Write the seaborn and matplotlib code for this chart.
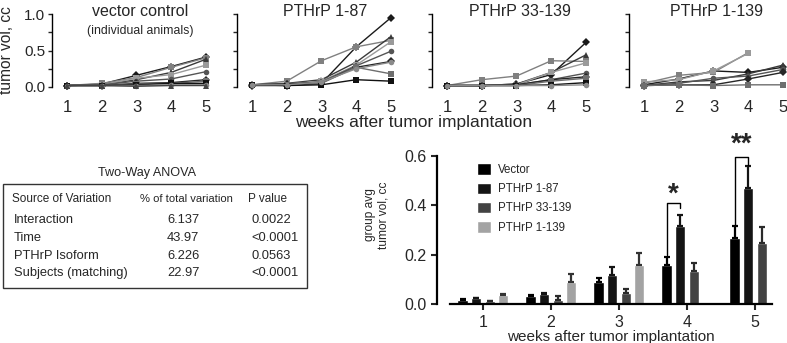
import numpy as np
import pandas as pd
import seaborn as sns
import matplotlib.pyplot as plt
from matplotlib.patches import Rectangle

nan = np.nan
weeks = [1, 2, 3, 4, 5]

# individual animals, tumor volume (cc) per week
vector_animals = [
    [0.02, 0.04, 0.16, 0.28, 0.41],
    [0.02, 0.05, 0.13, 0.27, 0.40],
    [0.02, 0.03, 0.10, 0.20, 0.38],
    [0.02, 0.03, 0.12, 0.17, 0.30],
    [0.02, 0.03, 0.08, 0.11, 0.21],
    [0.02, 0.02, 0.05, 0.06, 0.10],
    [0.02, 0.02, 0.04, 0.05, 0.08],
    [0.02, 0.02, 0.03, 0.05, 0.05],
    [0.02, 0.02, 0.02, 0.03, 0.03],
    [0.02, 0.02, 0.01, 0.02, 0.02],
]
pth187_animals = [
    [0.02, 0.02, 0.05, 0.55, 0.95],
    [0.03, 0.08, 0.36, 0.55, 0.64],
    [0.03, 0.05, 0.10, 0.34, 0.69],
    [0.03, 0.04, 0.08, 0.30, 0.62],
    [0.03, 0.04, 0.07, 0.29, 0.49],
    [0.03, 0.04, 0.06, 0.27, 0.35],
    [0.03, 0.03, 0.05, 0.27, 0.18],
    [0.03, 0.02, 0.03, 0.10, 0.08],
    [0.03, 0.03, 0.07, 0.25, 0.34],
]
pth33_animals = [
    [0.02, 0.02, 0.04, 0.17, 0.61],
    [0.02, 0.10, 0.15, 0.36, 0.35],
    [0.02, 0.02, 0.04, 0.20, 0.44],
    [0.02, 0.02, 0.03, 0.20, 0.33],
    [0.02, 0.02, 0.03, 0.10, 0.19],
    [0.02, 0.02, 0.03, 0.10, 0.14],
    [0.02, 0.02, 0.02, 0.08, 0.12],
    [0.02, 0.02, 0.02, 0.03, 0.06],
    [0.02, 0.02, 0.02, 0.02, 0.03],
]
pth1139_animals = [
    [0.03, 0.11, 0.22, 0.20, 0.27],
    [0.05, 0.16, 0.20, 0.47, nan],
    [0.02, 0.07, 0.09, 0.18, 0.30],
    [0.07, 0.10, 0.22, 0.46, nan],
    [0.02, 0.05, 0.12, 0.15, 0.24],
    [0.02, 0.03, 0.03, 0.11, 0.20],
    [0.02, 0.03, 0.02, 0.03, 0.03],
]
panel_titles = ['vector control', 'PTHrP 1-87', 'PTHrP 33-139', 'PTHrP 1-139']

# group averages +/- SEM
groups = ['Vector', 'PTHrP 1-87', 'PTHrP 33-139', 'PTHrP 1-139']
avg_vector = [0.018, 0.031, 0.088, 0.158, 0.268]
avg_187 = [0.023, 0.039, 0.118, 0.316, 0.469]
avg_33 = [0.012, 0.018, 0.045, 0.132, 0.247]
avg_1139 = [0.035, 0.089, 0.160, nan, nan]
sem_vector = [0.003, 0.005, 0.016, 0.031, 0.049]
sem_187 = [0.003, 0.005, 0.032, 0.046, 0.089]
sem_33 = [0.002, 0.013, 0.016, 0.035, 0.065]
sem_1139 = [0.007, 0.034, 0.048, nan, nan]

# two-way ANOVA table
anova_source = ['Interaction', 'Time', 'PTHrP Isoform', 'Subjects (matching)']
anova_pct = ['6.137', '43.97', '6.226', '22.97']
anova_p = ['0.0022', '<0.0001', '0.0563', '<0.0001']

sns.set_style('white')
plt.rcParams['font.family'] = ['Liberation Sans', 'DejaVu Sans']

W, H = 787, 343
fig = plt.figure(figsize=(W / 100, H / 100), dpi=100)


def px_axes(left, top, width, height):
    return fig.add_axes([left / W, 1 - (top + height) / H, width / W, height / H])


# ---- top row: individual animals
shades = ['#1a1a1a', '#808080', '#3a3a3a', '#9a9a9a', '#555555',
          '#262626', '#6e6e6e', '#111111', '#8a8a8a', '#444444']
marks = ['D', 's', '^', 's', 'o', 'D', 's', 's', 'o', '^']

panel_lefts = [52, 237, 432, 629]
all_animals = [vector_animals, pth187_animals, pth33_animals, pth1139_animals]
for k, (animals, title) in enumerate(zip(all_animals, panel_titles)):
    ax = px_axes(panel_lefts[k], 14, 155, 73)
    rows = []
    for i, vals in enumerate(animals):
        for w, v in zip(weeks, vals):
            rows.append({'week': w, 'vol': v, 'animal': i})
    df = pd.DataFrame(rows).dropna()
    n = len(animals)
    sns.lineplot(data=df, x='week', y='vol', hue='animal', style='animal',
                 palette=shades[:n], markers=marks[:n], dashes=False,
                 markersize=4, linewidth=1.0, markeredgewidth=0,
                 legend=False, ax=ax, clip_on=False)
    ax.set_xlim(0.568, 5.03)
    ax.set_ylim(0, 1)
    ax.set_xlabel('')
    ax.set_ylabel('')
    sns.despine(ax=ax, bottom=True)
    ax.spines['left'].set_linewidth(1.0)
    ax.spines['left'].set_color('black')
    ax.set_xticks(weeks)
    ax.tick_params(axis='x', length=0, pad=9, labelsize=12)
    ax.set_yticks([0, 0.25, 0.5, 0.75, 1.0])
    if k == 0:
        ax.set_yticklabels(['0.0', '', '0.5', '', '1.0'])
    else:
        ax.set_yticklabels([])
    ax.tick_params(axis='y', left=True, length=3, width=1, pad=2, labelsize=11)
    ax.text(3.1, 1.04, title, ha='center', va='center', fontsize=11.5)
    if k == 0:
        ax.text(3.1, 0.77, '(individual animals)', ha='center', va='center', fontsize=8.8)

fig.text(7 / W, 1 - 50 / H, 'tumor vol, cc', rotation=90, ha='center', va='center', fontsize=11.2)
fig.text(414 / W, 1 - 123 / H, 'weeks after tumor implantation', ha='center', va='center', fontsize=12.5)

# ---- ANOVA table
tab = fig.add_axes([0, 0, 1, 1])
tab.set_xlim(0, W)
tab.set_ylim(H, 0)
tab.axis('off')
tab.add_patch(Rectangle((3, 184), 304, 104, fill=False, edgecolor='#333333', lw=1.0))
tab.text(147, 173, 'Two-Way ANOVA', ha='center', va='center', fontsize=9.1)
tab.text(12, 199, 'Source of Variation', va='center', fontsize=8.5)
tab.text(140, 199, '% of total variation', va='center', fontsize=8.1)
tab.text(248, 199, 'P value', va='center', fontsize=8.5)
for i, (s, p, pv) in enumerate(zip(anova_source, anova_pct, anova_p)):
    y = 220 + i * 17.8
    tab.text(14, y, s, va='center', fontsize=9.3)
    tab.text(167, y, p, va='center', fontsize=9.3)
    tab.text(251, y, pv, va='center', fontsize=9.3)

# ---- bottom right: group averages
bar_colors = ['#000000', '#141414', '#424242', '#a3a3a3']
err_colors = ['#000000', '#141414', '#2a2a2a', '#333333']
rows = []
for g, avg in zip(groups, [avg_vector, avg_187, avg_33, avg_1139]):
    for w, v in zip(weeks, avg):
        rows.append({'week': w, 'group': g, 'vol': v})
bar_df = pd.DataFrame(rows)

axb = px_axes(450, 156, 322, 148)
sns.barplot(data=bar_df, x='week', y='vol', hue='group', hue_order=groups,
            palette=bar_colors, errorbar=None, gap=0.25, ax=axb, saturation=1)
handles, labels = axb.get_legend_handles_labels()
axb.legend(handles, labels, loc='upper left', bbox_to_anchor=(0.084, 0.95),
           frameon=False, fontsize=8.3, handlelength=1.2, handleheight=1.2,
           handletextpad=0.6, labelspacing=0.55, borderpad=0, borderaxespad=0)

sems = [sem_vector, sem_187, sem_33, sem_1139]
bar_conts = list(axb.containers)
for i, cont in enumerate(bar_conts):
    for bar in cont:
        h = bar.get_height()
        if np.isnan(h) or h == 0:
            continue
        x = bar.get_x() + bar.get_width() / 2
        wk = int(round(x))
        axb.errorbar(x, h, yerr=[[0], [sems[i][wk]]], color=err_colors[i],
                     capsize=2.5, elinewidth=1.6, capthick=1.6, zorder=1)

axb.set_xlim(-0.485, 4.25)
axb.set_ylim(0, 0.6)
axb.set_yticks([0, 0.2, 0.4, 0.6])
axb.set_yticklabels(['0.0', '0.2', '0.4', '0.6'])
sns.despine(ax=axb)
axb.spines['left'].set_position(('outward', 9.4))
for sp in ['left', 'bottom']:
    axb.spines[sp].set_linewidth(1.6)
    axb.spines[sp].set_color('black')
axb.tick_params(axis='both', bottom=True, left=True, length=4, width=1.5, labelsize=11.5)
axb.tick_params(axis='x', pad=4)
axb.set_xlabel('weeks after tumor implantation', fontsize=11, labelpad=0)
axb.set_ylabel('')
fig.text(377 / W, 1 - 215 / H, 'group avg\ntumor vol, cc', rotation=90,
         ha='center', va='center', fontsize=8.6, linespacing=1.15)

# significance brackets
offs = [-0.3, -0.1, 0.1, 0.3]
axb.plot([3 + offs[0], 3 + offs[0], 3 + offs[1], 3 + offs[1]], [0.20, 0.41, 0.41, 0.39],
         color='black', lw=1.0)
axb.text(3 - 0.2, 0.445, '*', ha='center', va='center', fontsize=20, fontweight='bold')
axb.plot([4 + offs[0], 4 + offs[0], 4 + offs[1], 4 + offs[1]], [0.32, 0.597, 0.597, 0.565],
         color='black', lw=1.0, clip_on=False)
axb.text(4 - 0.2, 0.645, '**', ha='center', va='center', fontsize=20, fontweight='bold',
         clip_on=False)

fig.savefig('out.png', dpi=100)
